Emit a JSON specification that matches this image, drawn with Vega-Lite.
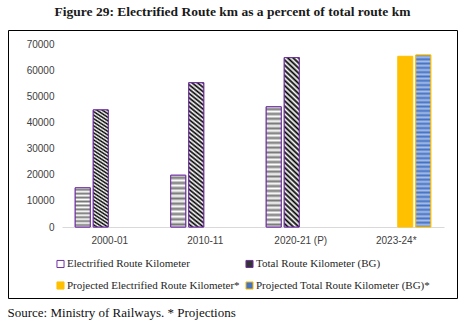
{
  "$schema": "https://vega.github.io/schema/vega-lite/v6.json",
  "width": 449,
  "height": 268,
  "autosize": {"type": "none"},
  "padding": {"left": 8, "top": 30, "right": 16, "bottom": 27},
  "background": "#ffffff",
  "title": {
    "text": "Figure 29: Electrified Route km as a percent of total route km",
    "font": "Liberation Serif",
    "fontSize": 13.5,
    "fontWeight": "bold",
    "color": "#1a1a1a",
    "anchor": "middle",
    "offset": 12
  },
  "config": {
    "view": {"stroke": "#000000", "strokeWidth": 1},
    "legend": {
      "orient": "none",
      "direction": "horizontal",
      "legendX": 47,
      "legendY": 228,
      "columns": 2,
      "symbolType": "square",
      "symbolSize": 50,
      "symbolStrokeWidth": 1,
      "labelFont": "Liberation Serif",
      "labelFontSize": 11,
      "labelColor": "#262626",
      "labelLimit": 300,
      "labelOffset": 1,
      "columnPadding": 3,
      "rowPadding": 9,
      "padding": 0,
      "title": null
    }
  },
  "data": {
    "values": [
      {"category": "2000-01", "series": "Electrified Route Kilometer", "value": 15000},
      {"category": "2000-01", "series": "Total Route Kilometer (BG)", "value": 44800},
      {"category": "2010-11", "series": "Electrified Route Kilometer", "value": 19800},
      {"category": "2010-11", "series": "Total Route Kilometer (BG)", "value": 55200},
      {"category": "2020-21 (P)", "series": "Electrified Route Kilometer", "value": 46000},
      {"category": "2020-21 (P)", "series": "Total Route Kilometer (BG)", "value": 64800},
      {"category": "2023-24*", "series": "Projected Electrified Route Kilometer*", "value": 65300},
      {"category": "2023-24*", "series": "Projected Total Route Kilometer (BG)*", "value": 65800}
    ]
  },
  "encoding": {
    "x": {
      "field": "category",
      "type": "nominal",
      "sort": ["2000-01", "2010-11", "2020-21 (P)", "2023-24*"],
      "scale": {"range": [54, 436], "paddingInner": 0.277, "paddingOuter": 0.1385},
      "axis": {
        "labelAngle": 0,
        "labelFont": "Liberation Sans",
        "labelFontSize": 10,
        "labelColor": "#404040",
        "labelPadding": 8,
        "ticks": false,
        "domain": true,
        "domainColor": "#d9d9d9",
        "domainWidth": 1,
        "offset": -71,
        "title": "Source: Ministry of Railways. * Projections",
        "titleFont": "Liberation Serif",
        "titleFontSize": 13,
        "titleFontWeight": "normal",
        "titleColor": "#111111",
        "titleAlign": "left",
        "titleBaseline": "middle",
        "titleX": -1,
        "titleY": 85
      }
    },
    "xOffset": {
      "field": "series",
      "type": "nominal",
      "sort": ["Electrified Route Kilometer", "Total Route Kilometer (BG)", "Projected Electrified Route Kilometer*", "Projected Total Route Kilometer (BG)*"],
      "scale": {
        "domain": ["Electrified Route Kilometer", "Total Route Kilometer (BG)", "Projected Electrified Route Kilometer*", "Projected Total Route Kilometer (BG)*"],
        "paddingInner": 0.167,
        "paddingOuter": 0
      }
    },
    "y": {
      "field": "value",
      "type": "quantitative",
      "scale": {"domain": [0, 70000], "range": [197, 14]},
      "axis": {
        "values": [0, 10000, 20000, 30000, 40000, 50000, 60000, 70000],
        "format": "d",
        "domain": false,
        "ticks": false,
        "grid": false,
        "labelPadding": 8,
        "offset": -54,
        "labelFont": "Liberation Sans",
        "labelFontSize": 10,
        "labelColor": "#404040",
        "title": null
      }
    },
    "y2": {"datum": 0}
  },
  "layer": [
    {
      "mark": {"type": "bar", "strokeWidth": 1},
      "encoding": {
        "fill": {
          "field": "series",
          "type": "nominal",
          "scale": {
            "domain": ["Electrified Route Kilometer", "Total Route Kilometer (BG)", "Projected Electrified Route Kilometer*", "Projected Total Route Kilometer (BG)*"],
            "range": ["#ffffff", "#333333", "#FFC000", "#4472C4"]
          }
        },
        "stroke": {
          "field": "series",
          "type": "nominal",
          "scale": {
            "domain": ["Electrified Route Kilometer", "Total Route Kilometer (BG)", "Projected Electrified Route Kilometer*", "Projected Total Route Kilometer (BG)*"],
            "range": ["#7030A0", "#7030A0", "#FFC000", "#FFC000"]
          }
        }
      }
    },
    {
      "transform": [{"filter": "datum.series === 'Total Route Kilometer (BG)'"}],
      "mark": {
        "type": "bar",
        "stroke": "#7030A0",
        "strokeWidth": 1,
        "fill": {
          "gradient": "linear", "x1": 0.1, "y1": -0.1, "x2": 0, "y2": 1.1,
          "stops": [
            {"offset": 0, "color": "#000000"}, {"offset": 0.0125, "color": "#ffffff"},
            {"offset": 0.025, "color": "#000000"}, {"offset": 0.0375, "color": "#ffffff"},
            {"offset": 0.05, "color": "#000000"}, {"offset": 0.0625, "color": "#ffffff"},
            {"offset": 0.075, "color": "#000000"}, {"offset": 0.0875, "color": "#ffffff"},
            {"offset": 0.1, "color": "#000000"}, {"offset": 0.1125, "color": "#ffffff"},
            {"offset": 0.125, "color": "#000000"}, {"offset": 0.1375, "color": "#ffffff"},
            {"offset": 0.15, "color": "#000000"}, {"offset": 0.1625, "color": "#ffffff"},
            {"offset": 0.175, "color": "#000000"}, {"offset": 0.1875, "color": "#ffffff"},
            {"offset": 0.2, "color": "#000000"}, {"offset": 0.2125, "color": "#ffffff"},
            {"offset": 0.225, "color": "#000000"}, {"offset": 0.2375, "color": "#ffffff"},
            {"offset": 0.25, "color": "#000000"}, {"offset": 0.2625, "color": "#ffffff"},
            {"offset": 0.275, "color": "#000000"}, {"offset": 0.2875, "color": "#ffffff"},
            {"offset": 0.3, "color": "#000000"}, {"offset": 0.3125, "color": "#ffffff"},
            {"offset": 0.325, "color": "#000000"}, {"offset": 0.3375, "color": "#ffffff"},
            {"offset": 0.35, "color": "#000000"}, {"offset": 0.3625, "color": "#ffffff"},
            {"offset": 0.375, "color": "#000000"}, {"offset": 0.3875, "color": "#ffffff"},
            {"offset": 0.4, "color": "#000000"}, {"offset": 0.4125, "color": "#ffffff"},
            {"offset": 0.425, "color": "#000000"}, {"offset": 0.4375, "color": "#ffffff"},
            {"offset": 0.45, "color": "#000000"}, {"offset": 0.4625, "color": "#ffffff"},
            {"offset": 0.475, "color": "#000000"}, {"offset": 0.4875, "color": "#ffffff"},
            {"offset": 0.5, "color": "#000000"}, {"offset": 0.5125, "color": "#ffffff"},
            {"offset": 0.525, "color": "#000000"}, {"offset": 0.5375, "color": "#ffffff"},
            {"offset": 0.55, "color": "#000000"}, {"offset": 0.5625, "color": "#ffffff"},
            {"offset": 0.575, "color": "#000000"}, {"offset": 0.5875, "color": "#ffffff"},
            {"offset": 0.6, "color": "#000000"}, {"offset": 0.6125, "color": "#ffffff"},
            {"offset": 0.625, "color": "#000000"}, {"offset": 0.6375, "color": "#ffffff"},
            {"offset": 0.65, "color": "#000000"}, {"offset": 0.6625, "color": "#ffffff"},
            {"offset": 0.675, "color": "#000000"}, {"offset": 0.6875, "color": "#ffffff"},
            {"offset": 0.7, "color": "#000000"}, {"offset": 0.7125, "color": "#ffffff"},
            {"offset": 0.725, "color": "#000000"}, {"offset": 0.7375, "color": "#ffffff"},
            {"offset": 0.75, "color": "#000000"}, {"offset": 0.7625, "color": "#ffffff"},
            {"offset": 0.775, "color": "#000000"}, {"offset": 0.7875, "color": "#ffffff"},
            {"offset": 0.8, "color": "#000000"}, {"offset": 0.8125, "color": "#ffffff"},
            {"offset": 0.825, "color": "#000000"}, {"offset": 0.8375, "color": "#ffffff"},
            {"offset": 0.85, "color": "#000000"}, {"offset": 0.8625, "color": "#ffffff"},
            {"offset": 0.875, "color": "#000000"}, {"offset": 0.8875, "color": "#ffffff"},
            {"offset": 0.9, "color": "#000000"}, {"offset": 0.9125, "color": "#ffffff"},
            {"offset": 0.925, "color": "#000000"}, {"offset": 0.9375, "color": "#ffffff"},
            {"offset": 0.95, "color": "#000000"}, {"offset": 0.9625, "color": "#ffffff"},
            {"offset": 0.975, "color": "#000000"}, {"offset": 0.9875, "color": "#ffffff"},
            {"offset": 1, "color": "#000000"}
          ]
        }
      }
    },
    {
      "transform": [{"filter": "datum.series === 'Electrified Route Kilometer' && datum.category !== '2020-21 (P)'"}],
      "mark": {
        "type": "bar",
        "stroke": "#7030A0",
        "strokeWidth": 1,
        "fill": {
          "gradient": "linear", "x1": 0, "y1": 0, "x2": 0, "y2": 1,
          "stops": [
            {"offset": 0, "color": "#ffffff"}, {"offset": 0.05, "color": "#777777"},
            {"offset": 0.1, "color": "#ffffff"}, {"offset": 0.15, "color": "#777777"},
            {"offset": 0.2, "color": "#ffffff"}, {"offset": 0.25, "color": "#777777"},
            {"offset": 0.3, "color": "#ffffff"}, {"offset": 0.35, "color": "#777777"},
            {"offset": 0.4, "color": "#ffffff"}, {"offset": 0.45, "color": "#777777"},
            {"offset": 0.5, "color": "#ffffff"}, {"offset": 0.55, "color": "#777777"},
            {"offset": 0.6, "color": "#ffffff"}, {"offset": 0.65, "color": "#777777"},
            {"offset": 0.7, "color": "#ffffff"}, {"offset": 0.75, "color": "#777777"},
            {"offset": 0.8, "color": "#ffffff"}, {"offset": 0.85, "color": "#777777"},
            {"offset": 0.9, "color": "#ffffff"}, {"offset": 0.95, "color": "#777777"},
            {"offset": 1, "color": "#ffffff"}
          ]
        }
      }
    },
    {
      "transform": [{"filter": "datum.series === 'Electrified Route Kilometer' && datum.category === '2020-21 (P)'"}],
      "mark": {
        "type": "bar",
        "stroke": "#7030A0",
        "strokeWidth": 1,
        "fill": {
          "gradient": "linear", "x1": 0, "y1": 0, "x2": 0, "y2": 1,
          "stops": [
            {"offset": 0, "color": "#ffffff"}, {"offset": 0.02, "color": "#777777"},
            {"offset": 0.04, "color": "#ffffff"}, {"offset": 0.06, "color": "#777777"},
            {"offset": 0.08, "color": "#ffffff"}, {"offset": 0.1, "color": "#777777"},
            {"offset": 0.12, "color": "#ffffff"}, {"offset": 0.14, "color": "#777777"},
            {"offset": 0.16, "color": "#ffffff"}, {"offset": 0.18, "color": "#777777"},
            {"offset": 0.2, "color": "#ffffff"}, {"offset": 0.22, "color": "#777777"},
            {"offset": 0.24, "color": "#ffffff"}, {"offset": 0.26, "color": "#777777"},
            {"offset": 0.28, "color": "#ffffff"}, {"offset": 0.3, "color": "#777777"},
            {"offset": 0.32, "color": "#ffffff"}, {"offset": 0.34, "color": "#777777"},
            {"offset": 0.36, "color": "#ffffff"}, {"offset": 0.38, "color": "#777777"},
            {"offset": 0.4, "color": "#ffffff"}, {"offset": 0.42, "color": "#777777"},
            {"offset": 0.44, "color": "#ffffff"}, {"offset": 0.46, "color": "#777777"},
            {"offset": 0.48, "color": "#ffffff"}, {"offset": 0.5, "color": "#777777"},
            {"offset": 0.52, "color": "#ffffff"}, {"offset": 0.54, "color": "#777777"},
            {"offset": 0.56, "color": "#ffffff"}, {"offset": 0.58, "color": "#777777"},
            {"offset": 0.6, "color": "#ffffff"}, {"offset": 0.62, "color": "#777777"},
            {"offset": 0.64, "color": "#ffffff"}, {"offset": 0.66, "color": "#777777"},
            {"offset": 0.68, "color": "#ffffff"}, {"offset": 0.7, "color": "#777777"},
            {"offset": 0.72, "color": "#ffffff"}, {"offset": 0.74, "color": "#777777"},
            {"offset": 0.76, "color": "#ffffff"}, {"offset": 0.78, "color": "#777777"},
            {"offset": 0.8, "color": "#ffffff"}, {"offset": 0.82, "color": "#777777"},
            {"offset": 0.84, "color": "#ffffff"}, {"offset": 0.86, "color": "#777777"},
            {"offset": 0.88, "color": "#ffffff"}, {"offset": 0.9, "color": "#777777"},
            {"offset": 0.92, "color": "#ffffff"}, {"offset": 0.94, "color": "#777777"},
            {"offset": 0.96, "color": "#ffffff"}, {"offset": 0.98, "color": "#777777"},
            {"offset": 1, "color": "#ffffff"}
          ]
        }
      }
    },
    {
      "transform": [{"filter": "datum.series === 'Projected Total Route Kilometer (BG)*'"}],
      "mark": {
        "type": "bar",
        "stroke": "#FFC000",
        "strokeWidth": 1,
        "fill": {
          "gradient": "linear", "x1": 0, "y1": 0, "x2": 0, "y2": 1,
          "stops": [
            {"offset": 0, "color": "#4472C4"}, {"offset": 0.0125, "color": "#a9bfe8"},
            {"offset": 0.025, "color": "#4472C4"}, {"offset": 0.0375, "color": "#a9bfe8"},
            {"offset": 0.05, "color": "#4472C4"}, {"offset": 0.0625, "color": "#a9bfe8"},
            {"offset": 0.075, "color": "#4472C4"}, {"offset": 0.0875, "color": "#a9bfe8"},
            {"offset": 0.1, "color": "#4472C4"}, {"offset": 0.1125, "color": "#a9bfe8"},
            {"offset": 0.125, "color": "#4472C4"}, {"offset": 0.1375, "color": "#a9bfe8"},
            {"offset": 0.15, "color": "#4472C4"}, {"offset": 0.1625, "color": "#a9bfe8"},
            {"offset": 0.175, "color": "#4472C4"}, {"offset": 0.1875, "color": "#a9bfe8"},
            {"offset": 0.2, "color": "#4472C4"}, {"offset": 0.2125, "color": "#a9bfe8"},
            {"offset": 0.225, "color": "#4472C4"}, {"offset": 0.2375, "color": "#a9bfe8"},
            {"offset": 0.25, "color": "#4472C4"}, {"offset": 0.2625, "color": "#a9bfe8"},
            {"offset": 0.275, "color": "#4472C4"}, {"offset": 0.2875, "color": "#a9bfe8"},
            {"offset": 0.3, "color": "#4472C4"}, {"offset": 0.3125, "color": "#a9bfe8"},
            {"offset": 0.325, "color": "#4472C4"}, {"offset": 0.3375, "color": "#a9bfe8"},
            {"offset": 0.35, "color": "#4472C4"}, {"offset": 0.3625, "color": "#a9bfe8"},
            {"offset": 0.375, "color": "#4472C4"}, {"offset": 0.3875, "color": "#a9bfe8"},
            {"offset": 0.4, "color": "#4472C4"}, {"offset": 0.4125, "color": "#a9bfe8"},
            {"offset": 0.425, "color": "#4472C4"}, {"offset": 0.4375, "color": "#a9bfe8"},
            {"offset": 0.45, "color": "#4472C4"}, {"offset": 0.4625, "color": "#a9bfe8"},
            {"offset": 0.475, "color": "#4472C4"}, {"offset": 0.4875, "color": "#a9bfe8"},
            {"offset": 0.5, "color": "#4472C4"}, {"offset": 0.5125, "color": "#a9bfe8"},
            {"offset": 0.525, "color": "#4472C4"}, {"offset": 0.5375, "color": "#a9bfe8"},
            {"offset": 0.55, "color": "#4472C4"}, {"offset": 0.5625, "color": "#a9bfe8"},
            {"offset": 0.575, "color": "#4472C4"}, {"offset": 0.5875, "color": "#a9bfe8"},
            {"offset": 0.6, "color": "#4472C4"}, {"offset": 0.6125, "color": "#a9bfe8"},
            {"offset": 0.625, "color": "#4472C4"}, {"offset": 0.6375, "color": "#a9bfe8"},
            {"offset": 0.65, "color": "#4472C4"}, {"offset": 0.6625, "color": "#a9bfe8"},
            {"offset": 0.675, "color": "#4472C4"}, {"offset": 0.6875, "color": "#a9bfe8"},
            {"offset": 0.7, "color": "#4472C4"}, {"offset": 0.7125, "color": "#a9bfe8"},
            {"offset": 0.725, "color": "#4472C4"}, {"offset": 0.7375, "color": "#a9bfe8"},
            {"offset": 0.75, "color": "#4472C4"}, {"offset": 0.7625, "color": "#a9bfe8"},
            {"offset": 0.775, "color": "#4472C4"}, {"offset": 0.7875, "color": "#a9bfe8"},
            {"offset": 0.8, "color": "#4472C4"}, {"offset": 0.8125, "color": "#a9bfe8"},
            {"offset": 0.825, "color": "#4472C4"}, {"offset": 0.8375, "color": "#a9bfe8"},
            {"offset": 0.85, "color": "#4472C4"}, {"offset": 0.8625, "color": "#a9bfe8"},
            {"offset": 0.875, "color": "#4472C4"}, {"offset": 0.8875, "color": "#a9bfe8"},
            {"offset": 0.9, "color": "#4472C4"}, {"offset": 0.9125, "color": "#a9bfe8"},
            {"offset": 0.925, "color": "#4472C4"}, {"offset": 0.9375, "color": "#a9bfe8"},
            {"offset": 0.95, "color": "#4472C4"}, {"offset": 0.9625, "color": "#a9bfe8"},
            {"offset": 0.975, "color": "#4472C4"}, {"offset": 0.9875, "color": "#a9bfe8"},
            {"offset": 1, "color": "#4472C4"}
          ]
        }
      }
    }
  ]
}
